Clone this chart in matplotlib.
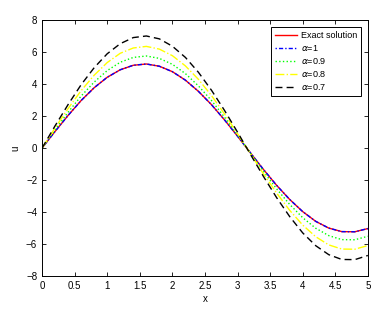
import matplotlib
matplotlib.use("Agg")
import matplotlib.pyplot as plt

plt.rcParams['font.family'] = ['Liberation Sans', 'DejaVu Sans']

x = [0, 0.2, 0.4, 0.6, 0.8, 1.0, 1.2, 1.4, 1.6, 1.8, 2.0, 2.2, 2.4,
     2.6, 2.8, 3.0, 3.2, 3.4, 3.6, 3.8, 4.0, 4.2, 4.4, 4.6, 4.8, 5.0]

exact = [0, 1.04, 2.04, 2.97, 3.77, 4.42, 4.89, 5.17, 5.25, 5.11, 4.77, 4.24, 3.54,
         2.71, 1.76, 0.74, -0.31, -1.35, -2.33, -3.21, -3.97, -4.58, -5.00, -5.22, -5.23, -5.03]
a10 = [0, 1.04, 2.04, 2.97, 3.77, 4.42, 4.89, 5.17, 5.25, 5.11, 4.77, 4.24, 3.54,
       2.71, 1.76, 0.74, -0.31, -1.35, -2.33, -3.21, -3.97, -4.58, -5.00, -5.22, -5.23, -5.03]
a09 = [0, 1.14, 2.24, 3.25, 4.12, 4.84, 5.36, 5.66, 5.75, 5.60, 5.23, 4.65, 3.88,
       2.97, 1.93, 0.81, -0.33, -1.47, -2.55, -3.52, -4.35, -5.01, -5.47, -5.72, -5.73, -5.51]
a08 = [0, 1.26, 2.47, 3.59, 4.55, 5.34, 5.92, 6.25, 6.35, 6.18, 5.77, 5.13, 4.29,
       3.28, 2.13, 0.90, -0.37, -1.63, -2.81, -3.89, -4.81, -5.54, -6.05, -6.31, -6.32, -6.09]
a07 = [0, 1.39, 2.72, 3.96, 5.02, 5.89, 6.52, 6.90, 7.00, 6.82, 6.36, 5.66, 4.73,
       3.61, 2.35, 0.99, -0.41, -1.79, -3.10, -4.28, -5.30, -6.10, -6.66, -6.96, -6.97, -6.71]

xticks = [0, 0.5, 1, 1.5, 2, 2.5, 3, 3.5, 4, 4.5, 5]
yticks = [-8, -6, -4, -2, 0, 2, 4, 6, 8]

fig = plt.figure(figsize=(3.86, 3.12), dpi=100)
ax = fig.add_axes([0.109, 0.115, 0.844, 0.821])

ax.plot(x, exact, color='red', lw=1, label='Exact solution')
ax.plot(x, a10, color='blue', lw=1, ls=(0, (1, 1.5, 3, 1.5)), label=r'$\alpha$=1')
ax.plot(x, a09, color='#00ff00', lw=1, ls=':', label=r'$\alpha$=0.9')
ax.plot(x, a08, color='#ffff00', lw=1, ls='-.', label=r'$\alpha$=0.8')
ax.plot(x, a07, color='black', lw=1, ls=(0, (5, 3)), label=r'$\alpha$=0.7')

ax.set_xlim(0, 5)
ax.set_ylim(-8, 8)
ax.set_xticks(xticks)
ax.set_xticklabels([str(t) for t in xticks])
ax.set_yticks(yticks)
ax.tick_params(direction='in', top=True, right=True, labelsize=7, length=3, width=0.6)
for s in ax.spines.values():
    s.set_linewidth(0.7)
ax.set_xlabel('x', fontsize=7, labelpad=2)
ax.set_ylabel('u', fontsize=7, labelpad=4)

leg = ax.legend(loc='upper right', fontsize=6.5, fancybox=False, edgecolor='black',
                framealpha=1, handlelength=2.5, borderpad=0.4, labelspacing=0.35,
                handletextpad=0.4, borderaxespad=0.8)
leg.get_frame().set_linewidth(0.7)

plt.savefig('out.png', dpi=100)
